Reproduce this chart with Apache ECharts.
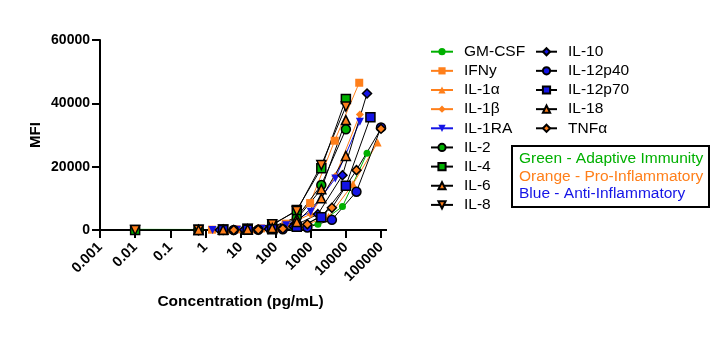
<!DOCTYPE html>
<html>
<head>
<meta charset="utf-8">
<script src="https://cdn.jsdelivr.net/npm/echarts@6/dist/echarts.min.js"></script>
<style>html,body{margin:0;padding:0;background:#fff;}#c{width:719px;height:337px;}</style>
</head>
<body>
<div id="c"></div>
<script>
// ---- data (concentration pg/mL, MFI) ----
const xTickLabels = ['0.001','0.01','0.1','1','10','100','1000','10000','100000'];
const yTickLabels = ['0','20000','40000','60000'];

const concGMCSF = [0.01, 2.56, 12.8, 64, 320, 1600, 8000, 40000];
const mfiGMCSF  = [200, 150, 200, 400, 900, 1800, 7400, 24200];
const concIFNy  = [1.54, 7.68, 38.4, 192, 960, 4800, 24000];
const mfiIFNy   = [100, 200, 500, 2000, 8500, 28200, 46500];
const concIL1a  = [5.12, 25.6, 128, 640, 3200, 16000, 80000];
const mfiIL1a   = [50, 150, 500, 1500, 4200, 14500, 27600];
const concIL1b  = [1.6, 8, 40, 200, 1000, 5000, 25000];
const mfiIL1b   = [50, 150, 400, 1500, 5000, 17000, 36500];
const concIL1RA = [1.6, 8, 40, 200, 1000, 5000, 25000];
const mfiIL1RA  = [0, 100, 400, 1500, 5800, 16300, 34200];
const concIL2   = [0.64, 3.2, 16, 80, 400, 2000, 10000];
const mfiIL2    = [0, 100, 250, 1000, 4000, 14200, 31800];
const concIL4   = [0.01, 0.64, 3.2, 16, 80, 400, 2000, 10000];
const mfiIL4    = [0, 50, 100, 300, 1500, 6300, 19500, 41400];
const concIL6   = [0.64, 3.2, 16, 80, 400, 2000, 10000];
const mfiIL6    = [0, 50, 200, 800, 3500, 12900, 34700];
const concIL8   = [0.01, 0.64, 3.2, 16, 80, 400, 2000, 10000];
const mfiIL8    = [0, 50, 150, 400, 1800, 6000, 20500, 39000];
const concIL10  = [2.56, 12.8, 64, 320, 1600, 8000, 40000];
const mfiIL10   = [0, 100, 300, 1200, 5000, 17300, 43100];
const concIL12p40 = [6.4, 32, 160, 800, 4000, 20000, 100000];
const mfiIL12p40  = [0, 50, 200, 800, 3200, 12100, 32400];
const concIL12p70 = [3.2, 16, 80, 400, 2000, 10000, 50000];
const mfiIL12p70  = [0, 50, 250, 1000, 4000, 14000, 35600];
const concIL18  = [0.64, 3.2, 16, 80, 400, 2000, 10000];
const mfiIL18   = [0, 50, 150, 600, 2500, 10000, 23400];
const concTNFa  = [6.4, 32, 160, 800, 4000, 20000, 100000];
const mfiTNFa   = [0, 100, 400, 1800, 7000, 18900, 32000];

const GREEN = '#00b000', ORANGE = '#ff7f1a', BLUE = '#1414e6', BLACK = '#000';
const FONT = 'Liberation Sans, Arial, sans-serif';
const INVTRI = 'path://M0,0 L10,0 L5,9 Z';

function pairs(c, v) { return c.map((x, i) => [x, v[i]]); }

// name, conc, mfi, symbol, fill, lineColor, bordered, size
const specs = [
  ['GM-CSF', concGMCSF, mfiGMCSF, 'circle', GREEN, GREEN, false, 7],
  ['IFNy', concIFNy, mfiIFNy, 'rect', ORANGE, ORANGE, false, 8],
  ['IL-1α', concIL1a, mfiIL1a, 'triangle', ORANGE, ORANGE, false, 8],
  ['IL-1β', concIL1b, mfiIL1b, 'diamond', ORANGE, ORANGE, false, 8],
  ['IL-1RA', concIL1RA, mfiIL1RA, INVTRI, BLUE, BLUE, false, 8],
  ['IL-2', concIL2, mfiIL2, 'circle', GREEN, BLACK, true, 9],
  ['IL-4', concIL4, mfiIL4, 'rect', GREEN, BLACK, true, 9],
  ['IL-6', concIL6, mfiIL6, 'triangle', ORANGE, BLACK, true, 9],
  ['IL-8', concIL8, mfiIL8, INVTRI, ORANGE, BLACK, true, 9],
  ['IL-10', concIL10, mfiIL10, 'diamond', BLUE, BLACK, true, 9],
  ['IL-12p40', concIL12p40, mfiIL12p40, 'circle', BLUE, BLACK, true, 9],
  ['IL-12p70', concIL12p70, mfiIL12p70, 'rect', BLUE, BLACK, true, 9],
  ['IL-18', concIL18, mfiIL18, 'triangle', ORANGE, BLACK, true, 9],
  ['TNFα', concTNFa, mfiTNFa, 'diamond', ORANGE, BLACK, true, 9]
];

const series = specs.map(s => ({
  name: s[0],
  type: 'line',
  data: pairs(s[1], s[2]),
  symbol: s[3],
  symbolSize: s[7],
  showAllSymbol: true,
  lineStyle: { color: s[5], width: 1 },
  itemStyle: { color: s[4], borderColor: s[6] ? BLACK : s[4], borderWidth: s[6] ? 1.5 : 0 },
  emphasis: { disabled: true },
  animation: false
}));

const names = specs.map(s => s[0]);
const legendCommon = {
  orient: 'vertical', padding: 0, itemGap: 3.15, itemHeight: 9,
  selectedMode: false,
  textStyle: { fontFamily: FONT, fontSize: 15.5, color: '#000', lineHeight: 16, padding: [0, 0, 0, 6] }
};

const chart = echarts.init(document.getElementById('c'), null, { renderer: 'canvas' });
chart.setOption({
  backgroundColor: '#fff',
  animation: false,
  grid: { left: 100, top: 40, width: 281, height: 190, containLabel: false },
  xAxis: {
    type: 'log', logBase: 10, min: 0.001, max: 100000, splitNumber: 8,
    name: 'Concentration (pg/mL)', nameLocation: 'middle', nameGap: 64,
    nameTextStyle: { fontFamily: FONT, fontSize: 15.5, fontWeight: 'bold', color: '#000' },
    axisLine: { lineStyle: { color: '#000', width: 2 } },
    axisTick: { show: true, length: 8, lineStyle: { color: '#000', width: 2 } },
    minorTick: { show: false },
    splitLine: { show: false },
    axisLabel: {
      rotate: 45, margin: 15, color: '#000', fontFamily: FONT, fontSize: 14.5, fontWeight: 'bold',
      formatter: v => xTickLabels[Math.round(Math.log10(v)) + 3]
    }
  },
  yAxis: {
    type: 'value', min: 0, max: 60000, interval: 20000,
    name: 'MFI', nameLocation: 'middle', nameGap: 57, nameRotate: 90,
    nameTextStyle: { fontFamily: FONT, fontSize: 15, fontWeight: 'bold', color: '#000' },
    axisLine: { show: true, lineStyle: { color: '#000', width: 2 } },
    axisTick: { show: true, length: 8, lineStyle: { color: '#000', width: 2 } },
    splitLine: { show: false },
    axisLabel: {
      margin: 10, color: '#000', fontFamily: FONT, fontSize: 14, fontWeight: 'bold',
      formatter: v => yTickLabels[Math.round(v / 20000)]
    }
  },
  legend: [
    Object.assign({}, legendCommon, { data: names.slice(0, 9), left: 430, top: 43.7, itemWidth: 22 }),
    Object.assign({}, legendCommon, { data: names.slice(9), left: 535, top: 43.7, itemWidth: 21 })
  ],
  graphic: [
    { type: 'line', shape: { x1: 100, y1: 230, x2: 100, y2: 237 }, style: { stroke: '#000', lineWidth: 2 }, silent: true },
    { type: 'line', shape: { x1: 380, y1: 230, x2: 387, y2: 230 }, style: { stroke: '#000', lineWidth: 2 }, silent: true },
    { type: 'rect', shape: { x: 512, y: 146, width: 197, height: 61 },
      style: { fill: 'none', stroke: '#000', lineWidth: 2 }, silent: true },
    { type: 'text', left: 519, top: 151, style: { text: 'Green - Adaptive Immunity', fill: GREEN, font: '15.5px ' + FONT } },
    { type: 'text', left: 519, top: 168.7, style: { text: 'Orange - Pro-Inflammatory', fill: ORANGE, font: '15.5px ' + FONT } },
    { type: 'text', left: 519, top: 186, style: { text: 'Blue - Anti-Inflammatory', fill: BLUE, font: '15.5px ' + FONT } }
  ],
  series: series
});
</script>
</body>
</html>
